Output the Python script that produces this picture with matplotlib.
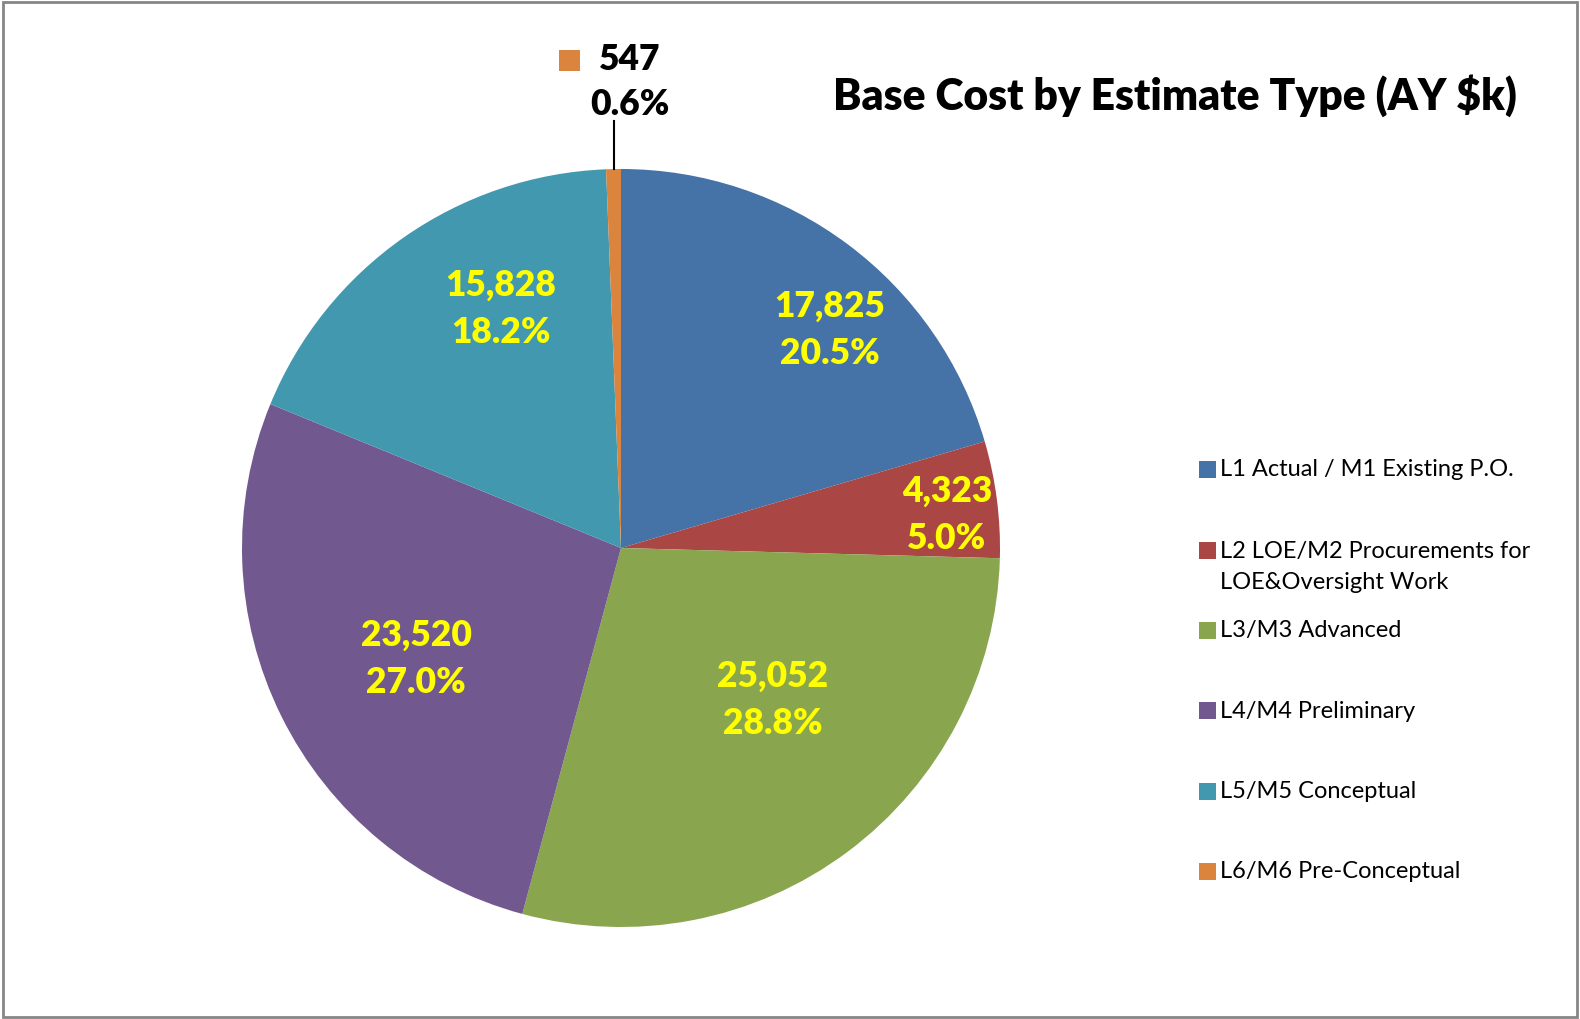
import matplotlib
matplotlib.use("Agg")
import matplotlib.pyplot as plt
from matplotlib.patches import Rectangle

# data
categories = [
    "L1 Actual / M1 Existing P.O.",
    "L2 LOE/M2 Procurements for\nLOE&Oversight Work",
    "L3/M3 Advanced",
    "L4/M4 Preliminary",
    "L5/M5 Conceptual",
    "L6/M6 Pre-Conceptual",
]
values = [17825, 4323, 25052, 23520, 15828, 547]
colors = ["#4572A7", "#AA4643", "#89A54E", "#71588F", "#4198AF", "#DB843D"]
title = "Base Cost by Estimate Type (AY $k)"

W, H = 1580, 1020
fig = plt.figure(figsize=(W / 100, H / 100), dpi=100)
ax = fig.add_axes([0, 0, 1, 1])
ax.set_aspect("equal")

# chart frame
ax.add_patch(Rectangle((3, 2), W - 6, H - 5, fill=False, ec="#868686", lw=2))

cx, cy, r = 621, H - 549, 379
ax.pie(values, colors=colors, startangle=90, counterclock=False,
       center=(cx, cy), radius=r, frame=True,
       wedgeprops=dict(linewidth=0))
ax.set_xlim(0, W)
ax.set_ylim(0, H)
ax.axis("off")

total = sum(values)
lbl_kw = dict(ha="center", va="center", fontsize=25.5, fontweight="heavy",
              family="Lato", linespacing=1.52)
# label anchor points (pixels from top-left), Excel "best fit" style
label_pos = [(830, 330), (947, 515), (773, 700), (416, 659), (501, 309)]
for v, (x, y) in zip(values[:5], label_pos):
    ax.text(x, H - y, f"{v:,}\n{100 * v / total:.1f}%", color="#FFFF00", **lbl_kw)

# small slice label with leader line
v = values[5]
ax.text(630, H - 82, f"{v:,}\n{100 * v / total:.1f}%", color="black",
        **{**lbl_kw, "linespacing": 1.42})
ax.add_patch(Rectangle((559, H - 72), 21, 21, color=colors[5], lw=0))
ax.plot([614, 614], [H - 122, H - 170], color="black", lw=1.5)

ax.text(1517, H - 96, title, ha="right", va="center", fontsize=30.7,
        fontweight="heavy", family="Lato", color="black")

# legend
leg_y = [470, 551, 631, 711, 792, 872]
for lab, col, y in zip(categories, colors, leg_y):
    ax.add_patch(Rectangle((1199, H - y - 9), 17, 17, color=col, lw=0))
    ty = y + 16 if "\n" in lab else y
    ax.text(1220, H - ty, lab, ha="left", va="center",
            fontsize=17, family="Lato", color="black", linespacing=1.55)

fig.savefig("out.png", dpi=100)
